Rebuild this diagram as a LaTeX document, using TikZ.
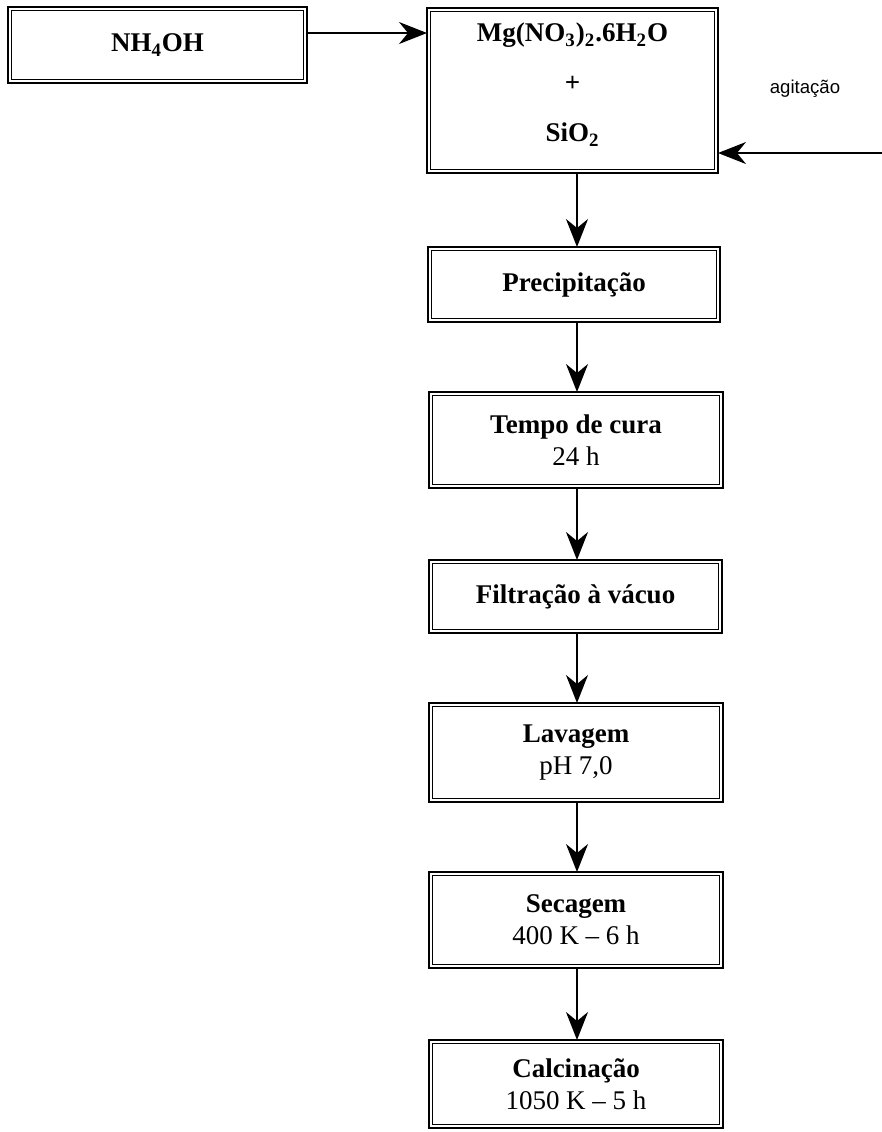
\documentclass[tikz,border=0pt]{standalone}
\usepackage{fontspec}
\setmainfont{Liberation Serif}
\newfontfamily\agitfont{Liberation Sans}
\usetikzlibrary{arrows.meta}
\tikzset{
  dbox/.style={draw, line width=1.3pt, outer sep=0pt, inner sep=0pt, align=center,
    font=\fontsize{13.5pt}{16pt}\selectfont},
  arr/.style={line width=0.75pt, -{Stealth[length=14pt, width=11pt, inset=4.5pt]}},
  innerline/.style={line width=0.6pt}
}
\begin{document}
\begin{tikzpicture}[x=0.5pt, y=-0.5pt]
\useasboundingbox (0,0) rectangle (882,1132);
\node[dbox, minimum width=149.5pt, minimum height=38pt] (nh) at (157.5,45) {\bfseries NH\textsubscript{4}OH};
\node[dbox, minimum width=145.5pt, minimum height=82.5pt, text depth=8pt, font=\fontsize{13.5pt}{25pt}\selectfont] (main) at (572.5,90.5)
  {\bfseries Mg(NO\textsubscript{3})\textsubscript{2}.6H\textsubscript{2}O\\ \bfseries +\\ \bfseries SiO\textsubscript{2}};
\node[dbox, minimum width=146pt, minimum height=37.5pt] (prec) at (574,284.5) {\bfseries Precipitação};
\node[dbox, minimum width=147pt, minimum height=48pt] (cura) at (576,440) {\bfseries Tempo de cura\\ 24 h};
\node[dbox, minimum width=146.5pt, minimum height=36.5pt] (filt) at (575.5,596.5) {\bfseries Filtração à vácuo};
\node[dbox, minimum width=147pt, minimum height=49.5pt] (lav) at (576,752.5) {\bfseries Lavagem\\ pH 7,0};
\node[dbox, minimum width=147pt, minimum height=48pt] (sec) at (576,920) {\bfseries Secagem\\ 400 K – 6 h};
\node[dbox, minimum width=147pt, minimum height=44pt] (calc) at (576,1084) {\bfseries Calcinação\\ 1050 K – 5 h};
\foreach \n in {nh,main,prec,cura,filt,lav,sec,calc}
  \draw[innerline] ([shift={(1.75pt,1.75pt)}]\n.south west) rectangle ([shift={(-1.75pt,-1.75pt)}]\n.north east);
\node[font=\agitfont\fontsize{9.3pt}{11pt}\selectfont] (agit) at (805,89) {agitação};
\coordinate (agitin) at (882,153);
\coordinate (ax) at (577,0);
\draw[arr] ([yshift=6pt]nh.east) -- ([yshift=6pt]nh.east -| main.west);
\draw[arr] (agitin) -- (agitin -| main.east);
\draw[arr] (main.south -| ax) -- (prec.north -| ax);
\draw[arr] (prec.south -| ax) -- (cura.north -| ax);
\draw[arr] (cura.south -| ax) -- (filt.north -| ax);
\draw[arr] (filt.south -| ax) -- (lav.north -| ax);
\draw[arr] (lav.south -| ax) -- (sec.north -| ax);
\draw[arr] (sec.south -| ax) -- (calc.north -| ax);
\end{tikzpicture}
\end{document}
